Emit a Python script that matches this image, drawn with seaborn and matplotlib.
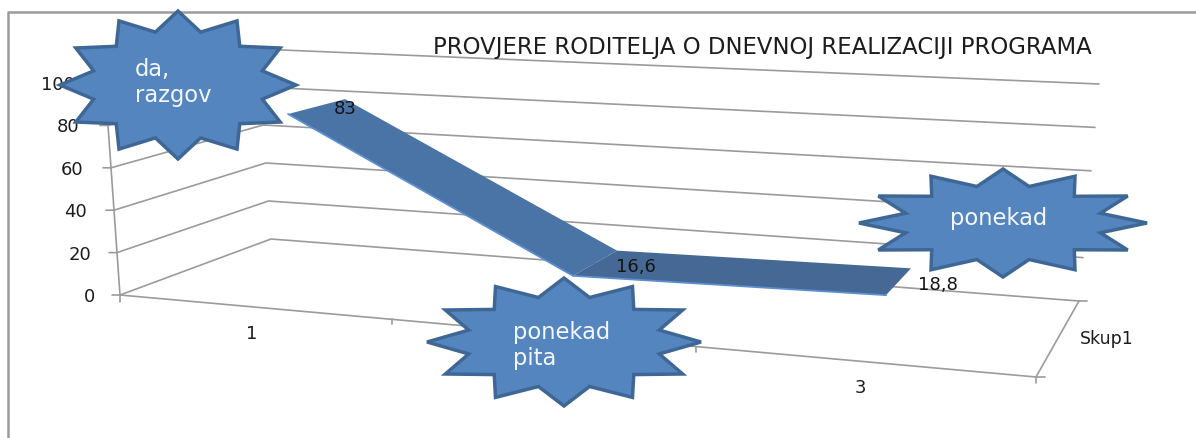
import numpy as np
import pandas as pd
import matplotlib
matplotlib.use("Agg")
import matplotlib.pyplot as plt
import seaborn as sns

# ---- data ----
categories = ["1", "2", "3"]
values = [83, 16.6, 18.8]
value_labels = ["83", "16,6", "18,8"]
y_ticks = [0, 20, 40, 60, 80, 100]
series_name = "Skup1"
title = "PROVJERE RODITELJA O DNEVNOJ REALIZACIJI PROGRAMA"
callouts = [["da,", "razgov"], ["ponekad", "pita"], ["ponekad"]]

sns.set_theme(style="white")
plt.rcParams["font.family"] = ["DejaVu Sans"]

W, H = 1196, 439
fig = plt.figure(figsize=(W / 100, H / 100), dpi=100, facecolor="white")
ax = fig.add_axes([0, 0, 1, 1])
ax.set_xlim(0, W)
ax.set_ylim(H, 0)
ax.axis("off")

GREY = "#9b9b9b"
TXT = "#1c1c1c"
LABEL_SIZE = 13


def seg(xs, ys, lw=1.2, color=GREY, z=1):
    df = pd.DataFrame({"x": xs, "y": ys})
    sns.lineplot(data=df, x="x", y="y", sort=False, estimator=None, ax=ax,
                 color=color, linewidth=lw, zorder=z, legend=False)


# 3-D box projection, screen position of each value on the box edges
def front_left(v):
    return 120 - 0.15 * v, 296 - 2.12 * v


def back_left(v):
    return 271 - 0.13 * v, 240 - 1.9 * v


def back_right(v):
    return 1079 + 0.2 * v, 302 - 2.17 * v


# outer frame
seg([8, 8, W], [H, 13, 13], lw=1.8)

# walls and gridlines
for v in y_ticks:
    fx, fy = front_left(v)
    bx, by = back_left(v)
    rx, ry = back_right(v)
    seg([fx - 8, fx, bx, rx], [fy, fy, by, ry])
    ax.text(95 - 0.2 * v, fy - 1, str(v), ha="right", va="center_baseline",
            fontsize=LABEL_SIZE, color=TXT, zorder=2)
seg([1079, 1087], [302, 302])

# value axis
x0, y0 = front_left(0)
x1, y1 = front_left(100)
seg([x0, x1], [y0, y1])
seg([x0, x0], [y0, y0 + 7])

# floor: front edge and depth edge
seg([120, 1036, 1079], [296, 378, 302])
seg([1036, 1045], [378, 378])
seg([1036, 1036], [378, 384])
for tx, ty in [(392, 320), (696, 348)]:
    seg([tx, tx], [ty, ty + 5])

# category and series labels ("2" sits behind the middle star, as in the reference)
for lab, (tx, ty) in zip(categories, [(252, 332), (572, 376), (860, 386)]):
    ax.text(tx, ty, lab, ha="center", va="center_baseline", fontsize=LABEL_SIZE, color=TXT, zorder=2)
ax.text(1080, 337, series_name, ha="left", va="center_baseline", fontsize=LABEL_SIZE - 0.5, color=TXT)

# ribbon: floor anchors per category, lifted by the value
front_floor = np.array([[288.0, 291.0], [573.0, 312.0], [886.0, 336.0]])
back_floor = np.array([[345.0, 262.0], [617.0, 284.0], [911.0, 306.0]])
vals = np.array(values, dtype=float)
front_y = front_floor[:, 1] - 2.12 * vals
back_y = back_floor[:, 1] - 1.95 * vals
front_x, back_x = front_floor[:, 0], back_floor[:, 0]

for i, col in enumerate(["#4a74a6", "#456894"]):
    ax.fill([front_x[i], front_x[i + 1], back_x[i + 1], back_x[i]],
            [front_y[i], front_y[i + 1], back_y[i + 1], back_y[i]],
            color=col, lw=0, zorder=3)
seg(front_x, front_y, lw=1.3, color="#5b8fd0", z=3.5)

# data labels
for lab, (tx, ty) in zip(value_labels, [(345, 107), (636, 265), (938, 283)]):
    ax.text(tx, ty, lab, ha="center", va="center_baseline", fontsize=LABEL_SIZE, color="#141414", zorder=4)

# title
ax.text(433, 45, title, ha="left", va="center_baseline", fontsize=16.4, color=TXT, zorder=2)


# callout stars
def star(cx, cy, rx, ry, inner, n=12):
    ang = np.deg2rad(np.arange(2 * n) * 360 / (2 * n))
    r = np.where(np.arange(2 * n) % 2 == 0, 1.0, inner)
    return cx + rx * r * np.cos(ang), cy + ry * r * np.sin(ang)


stars = [(178, 86, 118, 74, 0.74), (564, 343, 137, 64, 0.72), (1003, 224, 144, 54, 0.70)]
text_pos = [(135, [67, 93]), (513, [330, 356]), (950, [216])]
for (cx, cy, rx, ry, inner), lines, (tx, tys) in zip(stars, callouts, text_pos):
    sx, sy = star(cx, cy, rx, ry, inner)
    ax.fill(sx, sy, facecolor="#5585be", edgecolor="#3f6796", lw=2.5, zorder=5,
            joinstyle="miter")
    for line, ty in zip(lines, tys):
        ax.text(tx, ty, line, ha="left", va="center_baseline", fontsize=16.3, color="#f4f7fb", zorder=6)

fig.savefig("out.png", dpi=100)
